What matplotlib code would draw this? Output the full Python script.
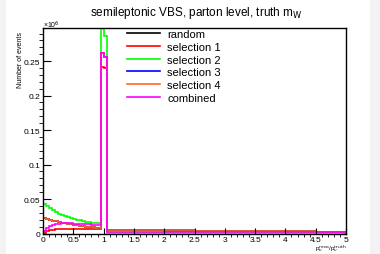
import numpy as np
import matplotlib.pyplot as plt
from matplotlib.ticker import MultipleLocator, FuncFormatter
from matplotlib.patches import Rectangle

plt.rcParams['font.family'] = ['Liberation Sans', 'DejaVu Sans']

# bin edges: 0.05 wide below the peak, two peak bins, coarser tail bins
edges = list(np.round(np.arange(0, 1.0001, 0.05), 2)) + [1.05, 1.25, 1.5, 2.0, 2.5, 3.0, 3.5, 4.0, 4.5, 5.0]

# number of events (x10^6) per bin
sel2 = [0.043, 0.040, 0.037, 0.034, 0.031, 0.029, 0.027, 0.025, 0.0235, 0.022,
        0.021, 0.020, 0.019, 0.018, 0.0172, 0.0165, 0.0158, 0.0152, 0.0146,
        0.31, 0.287,
        0.0008, 0.0006, 0.0005, 0.0004, 0.0003, 0.0003, 0.0002, 0.0002, 0.0002]
sel4 = [0.022, 0.0208, 0.0196, 0.0185, 0.0175, 0.0166, 0.0157, 0.0149, 0.0141, 0.0134,
        0.0127, 0.012, 0.0113, 0.0107, 0.0101, 0.0095, 0.009, 0.0085, 0.008,
        0.262, 0.256,
        0.0058, 0.0055, 0.005, 0.0045, 0.004, 0.0036, 0.0033, 0.003, 0.0028]
sel3 = [0.022, 0.0208, 0.0196, 0.0185, 0.0175, 0.0166, 0.0157, 0.0149, 0.0141, 0.0134,
        0.0127, 0.012, 0.0113, 0.0107, 0.0101, 0.0095, 0.009, 0.0085, 0.008,
        0.262, 0.256,
        0.0058, 0.0055, 0.005, 0.0045, 0.004, 0.0036, 0.0033, 0.003, 0.0028]
random_ = [0.022, 0.0208, 0.0196, 0.0185, 0.0175, 0.0166, 0.0157, 0.0149, 0.0141, 0.0134,
           0.0127, 0.012, 0.0113, 0.0107, 0.0101, 0.0095, 0.009, 0.0085, 0.008,
           0.262, 0.256,
           0.0058, 0.0055, 0.005, 0.0045, 0.004, 0.0036, 0.0033, 0.003, 0.0028]
sel1 = [0.001, 0.003, 0.0045, 0.0058, 0.0065, 0.0069, 0.0071, 0.0072, 0.0072, 0.0072,
        0.0071, 0.0071, 0.007, 0.0069, 0.0068, 0.0068, 0.0067, 0.0066, 0.0065,
        0.242, 0.240,
        0.0055, 0.0052, 0.0048, 0.0043, 0.0039, 0.0035, 0.0032, 0.0029, 0.0027]
combined = [0.004, 0.008, 0.011, 0.0128, 0.0138, 0.0143, 0.0146, 0.0147, 0.0147, 0.0146,
            0.0144, 0.0142, 0.014, 0.0138, 0.0135, 0.0133, 0.013, 0.0127, 0.0124,
            0.262, 0.256,
            0.0028, 0.0026, 0.0024, 0.0022, 0.002, 0.0018, 0.0017, 0.0016, 0.0015]

labels = ["random", "selection 1", "selection 2", "selection 3", "selection 4", "combined"]
series = [random_, sel1, sel2, sel3, sel4, combined]
colors = ["black", "#ff0000", "#00ff00", "#0000ff", "#ff6a1a", "#ff00ff"]

fig = plt.figure(figsize=(3.8, 2.55), dpi=100, facecolor="#f3f3f3")
fig.patches.append(Rectangle((6 / 380, 0), 364 / 380, 1, transform=fig.transFigure,
                             facecolor="white", edgecolor="none", zorder=-10))
ax = fig.add_axes([43 / 380, 1 - 234.5 / 255, 303 / 380, 205.5 / 255])

for vals, lab, c in zip(series, labels, colors):
    ax.stairs(vals, edges, baseline=0, color=c, lw=1.2, label=lab)

ax.set_xlim(0, 5)
ax.set_ylim(0, 0.298)

ax.xaxis.set_major_locator(MultipleLocator(0.5))
ax.xaxis.set_minor_locator(MultipleLocator(0.1))
ax.yaxis.set_major_locator(MultipleLocator(0.05))
ax.yaxis.set_minor_locator(MultipleLocator(0.01))
fmt = FuncFormatter(lambda v, p: ("%g" % round(v, 3)))
ax.xaxis.set_major_formatter(fmt)
ax.yaxis.set_major_formatter(fmt)
ax.tick_params(axis="both", direction="in", labelsize=6, width=0.8, pad=2)
ax.tick_params(axis="y", which="major", length=6)
ax.tick_params(axis="y", which="minor", length=3)
ax.tick_params(axis="x", which="major", length=4)
ax.tick_params(axis="x", which="minor", length=2)
for s in ax.spines.values():
    s.set_linewidth(1.0)

fig.text(196 / 380, 1 - 13 / 255, "semileptonic VBS, parton level, truth m$_{\\rm W}$",
         ha="center", va="center", fontsize=8.5)
fig.text(43 / 380, 1 - 25 / 255, "×10$^{6}$", ha="left", va="center", fontsize=5)
fig.text(20 / 380, 1 - 32 / 255, "Number of events", rotation=90, ha="center", va="top", fontsize=5)
fig.text(346 / 380, 1 - 254.5 / 255, "p$_{\\nu}^{\\rm reco}$/p$_{\\nu}^{\\rm truth}$",
         ha="right", va="bottom", fontsize=4.6)

ax.legend(loc="upper left", bbox_to_anchor=(127 / 380, 1 - 30 / 255), bbox_transform=fig.transFigure,
          frameon=False, fontsize=8, handlelength=3, handletextpad=0.6,
          labelspacing=0.25, borderpad=0, borderaxespad=0)

fig.savefig("out.png", dpi=100, facecolor=fig.get_facecolor())
